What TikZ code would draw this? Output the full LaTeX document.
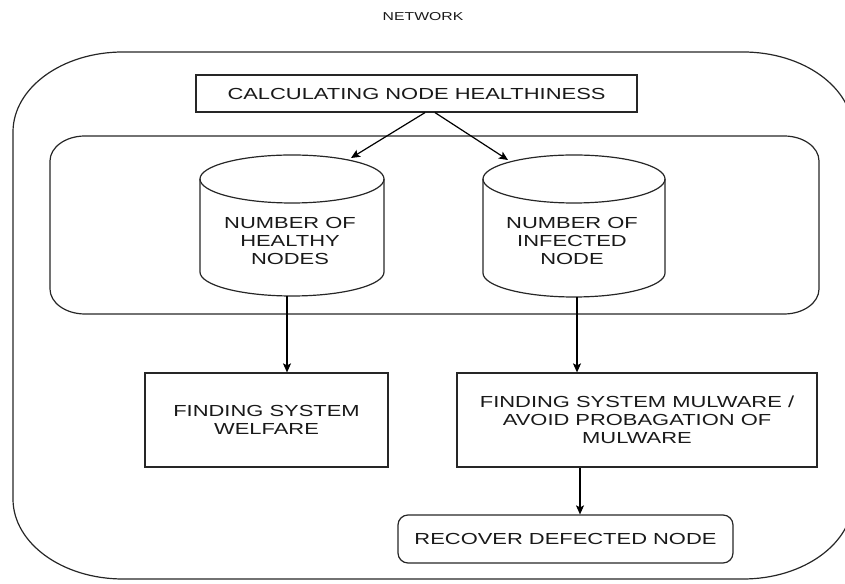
\documentclass[tikz,border=0pt]{standalone}
\usepackage{fontspec}
\setmainfont{Liberation Sans}[FakeStretch=1.37]
\usetikzlibrary{arrows.meta}
\newcommand\drawcyl[5]{% cx, topY, bottomY, rx, ry
  \draw (#1-#4,#2-#5) -- (#1-#4,#3+#5) arc[start angle=180,end angle=360,x radius=#4,y radius=#5] -- (#1+#4,#2-#5);
  \draw (#1,#2-#5) ellipse[x radius=#4,y radius=#5];
}
\begin{document}
\begin{tikzpicture}[x=1pt,y=1pt,
  line width=1.2pt, draw=black!85,
  every node/.style={font=\fontsize{16}{18}\selectfont, text=black!90},
  box/.style={draw=black!85, rectangle, align=center, inner sep=0pt},
  cyltext/.style={align=center, inner sep=0pt},
  arr/.style={draw=black, -{Stealth[length=9pt,width=8pt,inset=2pt]}},
]
\useasboundingbox (0,0) rectangle (845,583);

% title
\node[font=\fontsize{11.5}{13}\selectfont] (net) at (423,566) {NETWORK};

% outer network frame
\draw (13,451) -- (13,84) arc[start angle=180,end angle=270,x radius=110,y radius=80]
  -- (743,4) arc[start angle=270,end angle=360,x radius=110,y radius=80]
  -- (853,451) arc[start angle=0,end angle=90,x radius=110,y radius=80]
  -- (123,531) arc[start angle=90,end angle=180,x radius=110,y radius=80] -- cycle;

% inner frame
\draw (50,422) -- (50,294) arc[start angle=180,end angle=270,x radius=35,y radius=25]
  -- (784,269) arc[start angle=270,end angle=360,x radius=35,y radius=25]
  -- (819,422) arc[start angle=0,end angle=90,x radius=35,y radius=25]
  -- (85,447) arc[start angle=90,end angle=180,x radius=35,y radius=25] -- cycle;

% top box
\node[box, minimum width=441pt, minimum height=37pt] (calc) at (416.5,489.5) {CALCULATING NODE HEALTHINESS};

% cylinders
\drawcyl{292}{428}{287}{92}{24}
\drawcyl{574}{428}{286}{91}{24}
\node[cyltext] (hc) at (290,342) {NUMBER OF\\HEALTHY\\NODES};
\node[cyltext] (ic) at (572,342) {NUMBER OF\\INFECTED\\NODE};
\coordinate (hctop) at (351,425);
\coordinate (ictop) at (508,423);
\coordinate (hcbot) at (287,287);
\coordinate (icbot) at (577,286);

% lower boxes
\node[box, minimum width=243pt, minimum height=94pt] (wel) at (266.5,163) {FINDING SYSTEM\\WELFARE};
\node[box, minimum width=360pt, minimum height=94pt] (mal) at (637,163) {FINDING SYSTEM MULWARE /\\AVOID PROBAGATION OF\\MULWARE};
\node[box, rounded corners=10pt, minimum width=335pt, minimum height=48pt] (rec) at (565.5,44) {RECOVER DEFECTED NODE};

% connectors
\draw[arr] ([xshift=8.5pt]calc.south) -- (hctop);
\draw[arr] ([xshift=18.5pt]calc.south) -- (ictop);
\draw[arr] (hcbot) -- (hcbot |- wel.north);
\draw[arr] (icbot) -- (icbot |- mal.north);
\draw[arr] ([xshift=-57pt]mal.south) -- ([xshift=-57pt]mal.south |- rec.north);
\end{tikzpicture}
\end{document}
